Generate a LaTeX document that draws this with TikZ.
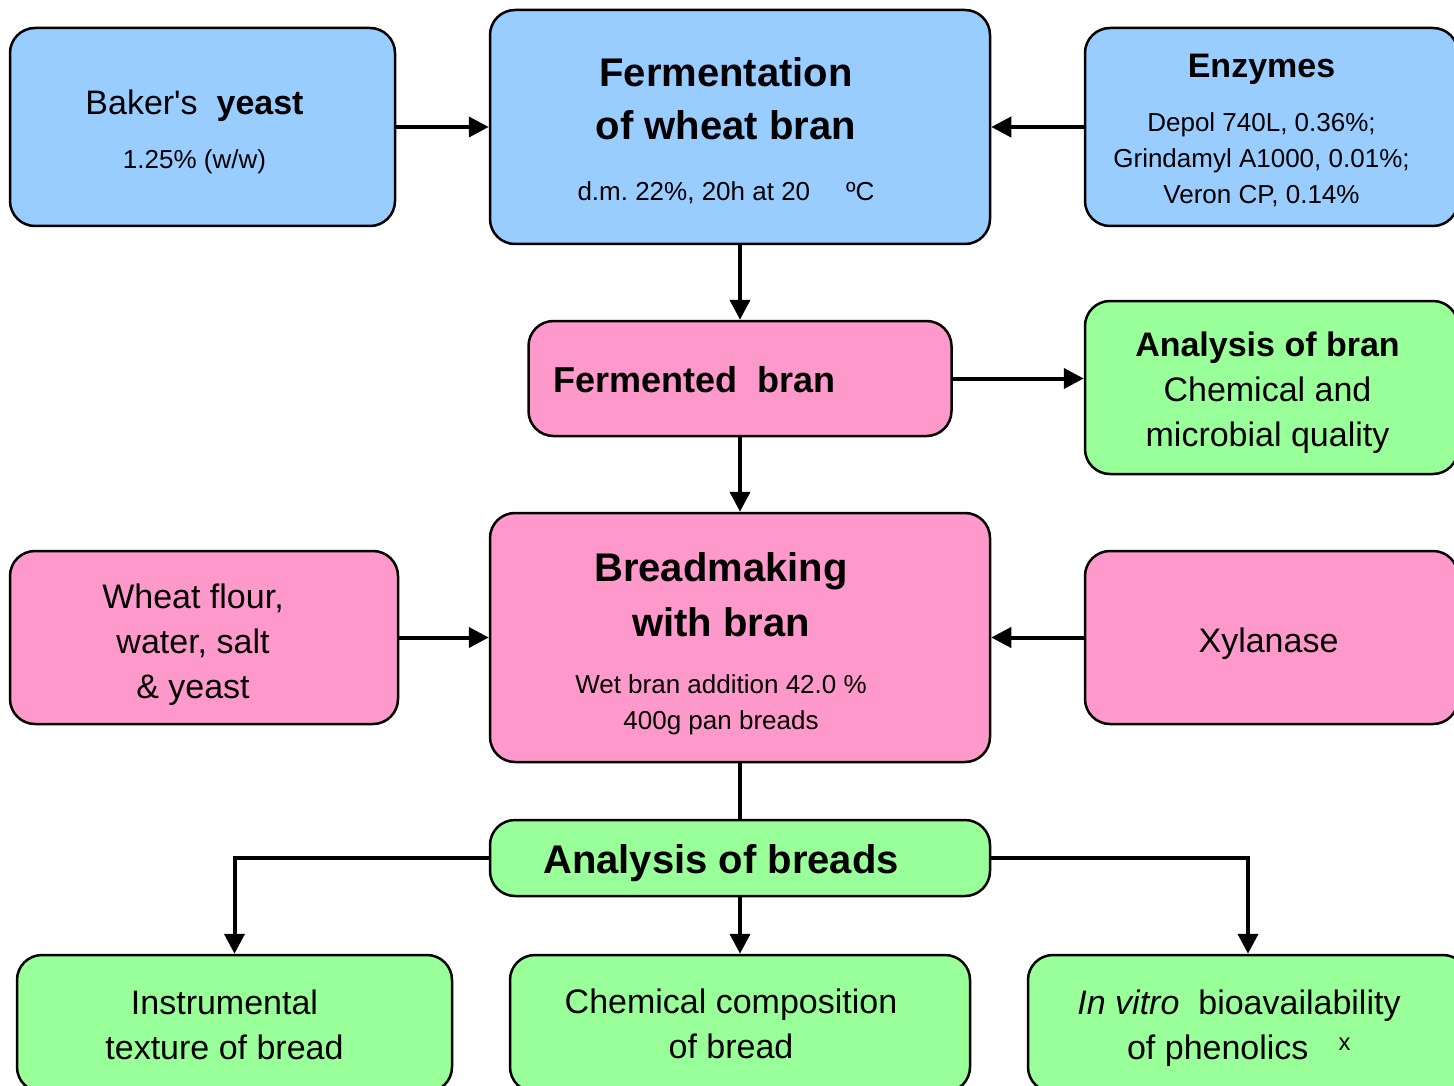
\documentclass[tikz,border=0pt]{standalone}
\usepackage{fontspec}
\setmainfont{Liberation Sans}
\usepackage{xcolor}
\usetikzlibrary{arrows.meta}
\definecolor{boxblue}{HTML}{99CCFF}
\definecolor{boxpink}{HTML}{FF99CC}
\definecolor{boxgreen}{HTML}{99FF99}
\newcommand{\bigbold}{\fontsize{40pt}{48pt}\selectfont\bfseries}
\newcommand{\midsize}{\fontsize{34pt}{45pt}\selectfont}
\newcommand{\smallsize}{\fontsize{26pt}{36pt}\selectfont}
\frenchspacing

\begin{document}
\begin{tikzpicture}[x=1pt, y=-1pt,
  paths/.style={-{Triangle[length=20pt,width=20pt]}, line width=4pt},
  link/.style={line width=4pt},
  box/.style={draw, line width=2.5pt, rounded corners=25pt, inner sep=0pt},
  blue_box/.style={box, fill=boxblue},
  pink_box/.style={box, fill=boxpink},
  green_box/.style={box, fill=boxgreen},
  txt/.style={align=center, inner sep=0pt}]

 \useasboundingbox (0,0) rectangle (1454,1086);
 \clip (0,0) rectangle (1454,1086);


 \node[blue_box, minimum width=385pt, minimum height=198pt] (box_yeast) at (202.5,127) {};
 \node[txt, font=\smallsize] (txt_yeast) at (194.5,132)
     {{\midsize Baker\textquotesingle s\ \ \textbf{yeast}}\\[18pt]1.25\% (w/w)};

 \node[blue_box, minimum width=500pt, minimum height=234pt] (box_ferm) at (740,127) {};
 \node[txt, font=\smallsize] (txt_ferm) at (726,131)
     {{\bigbold Fermentation}\\[17pt]{\bigbold of wheat bran}\\[25pt]d.m. 22\%, 20h at 20\hspace{36pt}ºC};

 \node[blue_box, minimum width=373pt, minimum height=198pt] (box_enz) at (1271.5,127) {};
 \node[txt, font=\smallsize] (txt_enz) at (1261.5,130)
     {{\midsize\bfseries Enzymes}\\[18pt]Depol 740L, 0.36\%;\\Grindamyl A1000, 0.01\%;\\Veron CP, 0.14\%};

 \node[pink_box, minimum width=423pt, minimum height=115pt] (box_fbran) at (740,378.5) {};
 \node[txt, anchor=west, font=\fontsize{36pt}{44pt}\selectfont\bfseries] (txt_fbran) at (553,380)
     {Fermented\ \ bran};

 \node[green_box, minimum width=373pt, minimum height=173pt] (box_abran) at (1271.5,387.5) {};
 \node[txt, font=\midsize] (txt_abran) at (1267.5,392.5)
     {\textbf{Analysis of bran}\\Chemical and\\microbial quality};

 \node[pink_box, minimum width=500pt, minimum height=249pt] (box_bread) at (740,637.5) {};
 \node[txt, font=\smallsize] (txt_bread) at (721,643.5)
     {{\bigbold Breadmaking}\\[16pt]{\bigbold with bran}\\[21pt]Wet bran addition 42.0 \%\\400g pan breads};

 \node[pink_box, minimum width=388pt, minimum height=173pt] (box_flour) at (204,637.5) {};
 \node[txt, font=\midsize] (txt_flour) at (193,644.5)
     {Wheat flour,\\water, salt\\\& yeast};

 \node[pink_box, minimum width=373pt, minimum height=173pt] (box_xyl) at (1271.5,637.5) {};
 \node[txt, font=\midsize] (txt_xyl) at (1268.5,643.5)
     {Xylanase};

 \node[green_box, minimum width=500pt, minimum height=76pt] (box_abreads) at (740,858) {};
 \node[txt, font=\bigbold] (txt_abreads) at (721,863)
     {Analysis of breads};

 \node[green_box, minimum width=435pt, minimum height=137pt] (box_instr) at (234.5,1023.5) {};
 \node[txt, font=\midsize] (txt_instr) at (224.5,1024.5)
     {Instrumental\\texture of bread};

 \node[green_box, minimum width=460pt, minimum height=137pt] (box_chem) at (740,1023.5) {};
 \node[txt, font=\midsize] (txt_chem) at (731,1023.5)
     {Chemical composition\\of bread};

 \node[green_box, minimum width=440pt, minimum height=137pt] (box_invitro) at (1248,1023.5) {};
 \node[txt, font=\midsize] (txt_invitro) at (1239,1028.5)
     {\textit{In vitro}\ \ bioavailability\\of phenolics\hspace{30pt}\textsuperscript{x}};



 \draw [paths] (box_yeast.east) -- (box_ferm.west);
 \draw [paths] (box_enz.west) -- (box_ferm.east);
 \draw [paths] (box_ferm.south) -- (box_fbran.north);
 \draw [paths] (box_fbran.east) -- (box_fbran.east -| box_abran.west);
 \draw [paths] (box_fbran.south) -- (box_bread.north);
 \draw [paths] (box_flour.east) -- (box_bread.west);
 \draw [paths] (box_xyl.west) -- (box_bread.east);
 \draw [link] (box_bread.south) -- (box_abreads.north);
 \draw [paths] (box_abreads.south) -- (box_chem.north);
 \draw [paths] (box_abreads.west) -| (box_instr.north);
 \draw [paths] (box_abreads.east) -| (box_invitro.north);


 \end{tikzpicture}
\end{document}
